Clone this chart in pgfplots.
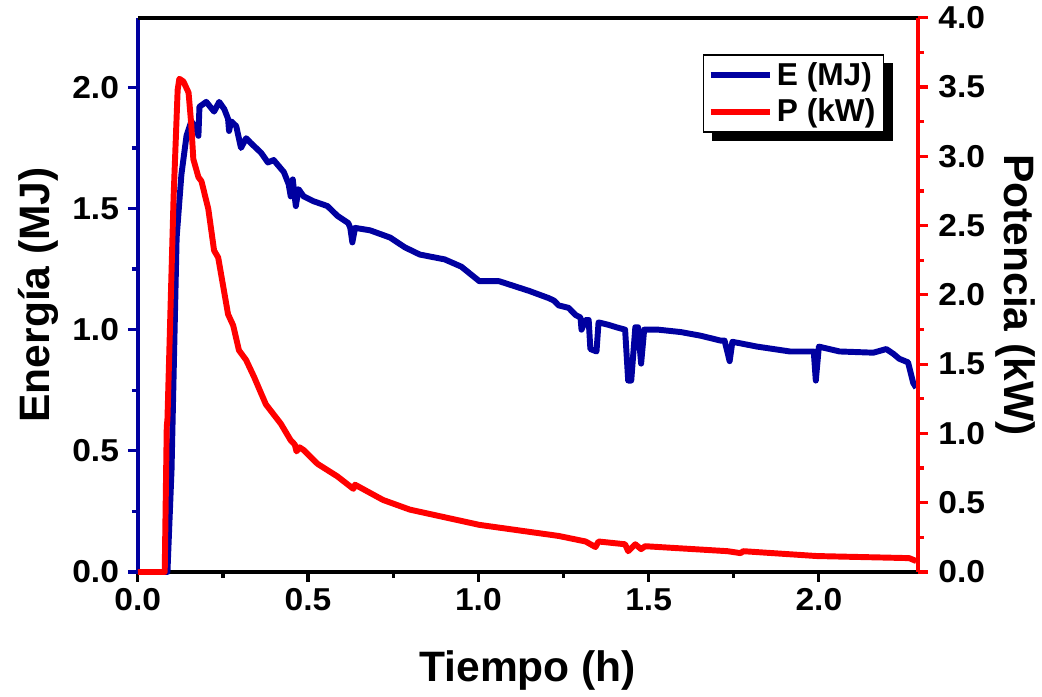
\documentclass[border=0pt]{standalone}
\usepackage{fontspec}
\setmainfont{Liberation Sans}
\newfontfamily\tickfont{Liberation Sans}[FakeStretch=1.06]
\usepackage{pgfplots}
\pgfplotsset{compat=1.18}
\usetikzlibrary{backgrounds}
\definecolor{eblue}{RGB}{0,0,160}
\definecolor{pred}{RGB}{255,0,0}

\pgfplotstableread{
x E
0 0
0.087 0
0.099 0.42
0.114 1.38
0.128 1.64
0.143 1.80
0.157 1.86
0.172 1.83
0.178 1.80
0.181 1.92
0.201 1.94
0.224 1.90
0.239 1.94
0.254 1.91
0.265 1.87
0.268 1.82
0.274 1.86
0.289 1.84
0.303 1.75
0.318 1.79
0.332 1.77
0.362 1.73
0.382 1.69
0.399 1.70
0.429 1.65
0.443 1.60
0.449 1.55
0.455 1.62
0.464 1.51
0.472 1.58
0.487 1.55
0.516 1.53
0.557 1.51
0.586 1.47
0.618 1.44
0.624 1.42
0.630 1.36
0.638 1.42
0.682 1.41
0.741 1.38
0.784 1.34
0.828 1.31
0.901 1.29
0.950 1.26
1.003 1.20
1.061 1.20
1.149 1.16
1.207 1.13
1.222 1.12
1.236 1.10
1.265 1.09
1.286 1.06
1.300 1.05
1.303 1.00
1.315 1.04
1.324 1.04
1.329 0.92
1.347 0.91
1.353 1.03
1.382 1.02
1.405 1.01
1.431 1.00
1.440 0.79
1.449 0.79
1.461 1.01
1.469 1.01
1.478 0.86
1.487 1.00
1.528 1.00
1.595 0.99
1.653 0.975
1.711 0.955
1.723 0.955
1.738 0.87
1.746 0.95
1.819 0.93
1.915 0.91
1.985 0.91
1.991 0.79
2.000 0.93
2.061 0.91
2.160 0.905
2.198 0.92
2.219 0.90
2.236 0.88
2.262 0.865
2.277 0.78
2.286 0.76
}\energia

\pgfplotstableread{
x P
0 0
0.079 0
0.085 1.05
0.087 1.10
0.105 2.70
0.117 3.48
0.122 3.56
0.134 3.54
0.149 3.46
0.157 3.23
0.163 2.98
0.178 2.85
0.187 2.82
0.207 2.62
0.224 2.32
0.236 2.27
0.265 1.86
0.280 1.78
0.297 1.60
0.318 1.53
0.341 1.41
0.376 1.21
0.420 1.07
0.449 0.95
0.461 0.92
0.466 0.87
0.475 0.90
0.487 0.88
0.528 0.78
0.586 0.69
0.633 0.60
0.638 0.63
0.720 0.52
0.799 0.45
1.003 0.34
1.236 0.26
1.315 0.22
1.344 0.18
1.353 0.22
1.431 0.20
1.440 0.15
1.461 0.20
1.478 0.165
1.490 0.186
1.732 0.15
1.770 0.136
1.778 0.15
1.994 0.115
2.265 0.10
2.286 0.079
}\potencia

\begin{document}
\begin{tikzpicture}
\pgfplotsset{
  myaxis/.style={
    scale only axis, width=394pt, height=280pt,
    clip=false,
    xmin=0, xmax=2.29,
    xtick={0,0.5,1,1.5,2}, minor x tick num=1,
    tick align=outside,
    major tick length=5pt, minor tick length=3pt,
    every major tick/.style={line width=1.6pt},
    every minor tick/.style={line width=1.6pt},
    /pgf/number format/fixed,
    /pgf/number format/fixed zerofill,
    /pgf/number format/precision=1,
    /pgf/number format/assume math mode=true,
    tick label style={font=\tickfont\bfseries\fontsize{16}{18}\selectfont},
    label style={font=\bfseries\fontsize{21.5}{25}\selectfont},
  }
}
\begin{axis}[
  myaxis,
  axis x line*=bottom, axis y line*=left,
  x axis line style={draw=black, line width=2pt, -},
  y axis line style={draw=eblue, line width=2pt, -},
  xtick style={draw=black}, ytick style={draw=eblue},
  ymin=0, ymax=2.287,
  ytick={0,0.5,1,1.5,2}, minor y tick num=1,
  yticklabel style={xshift=-1pt},
  xlabel={Tiempo (h)}, ylabel={Energía (MJ)},
  xlabel style={yshift=-13pt},
  after end axis/.code={
    \draw[black, line width=2pt] (rel axis cs:0,1) -- (rel axis cs:1,1);
    \foreach \t in {0,0.5,1,1.5,2} {
      \draw[black, line width=1.6pt] (axis cs:\t,0) -- ++(0,-5pt);
      \draw[eblue, line width=1.6pt] (axis cs:0,\t) -- ++(-5pt,0);
    }
  },
]
\addplot[eblue, line width=3pt, line join=round] table[x=x, y=E] {\energia};
\end{axis}
\begin{axis}[
  myaxis,
  axis x line=none,
  axis y line*=right,
  y axis line style={draw=pred, line width=2pt, -},
  ytick style={draw=pred},
  ymin=0, ymax=4,
  ytick={0,0.5,1,1.5,2,2.5,3,3.5,4}, minor y tick num=1,
  yticklabel style={xshift=2pt},
  ylabel={Potencia (kW)},
  ylabel style={rotate=180},
  ylabel shift=-1.5pt,
  legend style={name=leg, at={(0.957,0.934)}, anchor=north east,
    draw=black, line width=0.8pt, fill=white,
    font=\bfseries\fontsize{16}{19}\selectfont,
    inner xsep=2pt, inner ysep=1.5pt, row sep=1.5pt},
  legend cell align=left,
  legend image code/.code={\draw[#1, line width=3pt] (0pt,0pt) -- (30pt,0pt);},
  after end axis/.code={
    \foreach \t in {0,0.5,1,1.5,2,2.5,3,3.5,4} {
      \draw[pred, line width=1.6pt] (axis cs:2.29,\t) -- ++(5pt,0);
    }
  },
]
\addlegendimage{eblue}
\addlegendentry{E (MJ)}
\addplot[pred, line width=3pt, line join=round] table[x=x, y=P] {\potencia};
\addlegendentry{P (kW)}
\end{axis}
\begin{scope}[on background layer]
\fill[black] ([xshift=4.5pt,yshift=-4.5pt]leg.south west) rectangle ([xshift=4.5pt,yshift=-4.5pt]leg.north east);
\end{scope}
\path ([xshift=-6pt]current bounding box.west) -- ++(0,0);
\end{tikzpicture}
\end{document}
